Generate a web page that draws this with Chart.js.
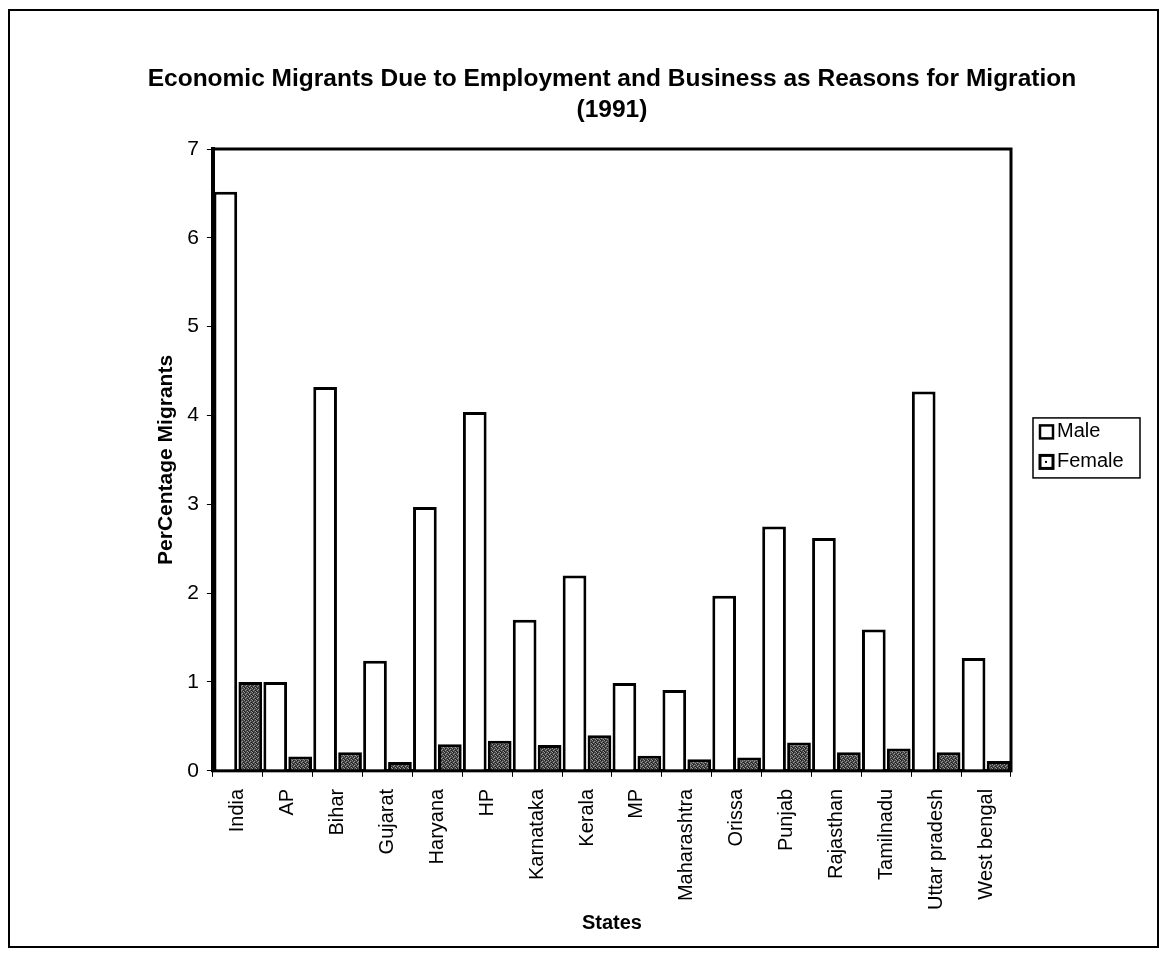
<!DOCTYPE html>
<html>
<head>
<meta charset="utf-8">
<title>Economic Migrants 1991</title>
<script src="https://cdn.jsdelivr.net/npm/chart.js@4.4.1/dist/chart.umd.min.js"></script>
<style>
  html, body { margin: 0; padding: 0; background: #fff; }
  canvas { display: block; }
</style>
</head>
<body>
<canvas id="chart" width="1167" height="955"></canvas>
<script>
  const states = ['India', 'AP', 'Bihar', 'Gujarat', 'Haryana', 'HP', 'Karnataka', 'Kerala',
    'MP', 'Maharashtra', 'Orissa', 'Punjab', 'Rajasthan', 'Tamilnadu', 'Uttar pradesh', 'West bengal'];
  const male   = [6.52, 1.00, 4.32, 1.24, 2.97, 4.04, 1.70, 2.20, 0.99, 0.91, 1.97, 2.75, 2.62, 1.59, 4.27, 1.27];
  const female = [1.00, 0.16, 0.21, 0.10, 0.30, 0.34, 0.29, 0.40, 0.17, 0.13, 0.15, 0.32, 0.21, 0.25, 0.21, 0.11];
  const yTicks = [0, 1, 2, 3, 4, 5, 6, 7];
  const titleLines = ['Economic Migrants Due to Employment and Business as Reasons for Migration', '(1991)'];

  const font = 'Arial, "Liberation Sans", sans-serif';

  // stippled grey fill for the female bars (fixed pixel pattern)
  function stipple() {
    const c = document.createElement('canvas');
    c.width = 4; c.height = 4;
    const g = c.getContext('2d');
    g.fillStyle = '#444';
    g.fillRect(0, 0, 4, 4);
    g.fillStyle = '#999';
    [[0, 0], [2, 1], [1, 2], [3, 3]].forEach(p => g.fillRect(p[0], p[1], 1, 1));
    g.fillStyle = '#1e1e1e';
    [[1, 0], [3, 2], [0, 3]].forEach(p => g.fillRect(p[0], p[1], 1, 1));
    return g.createPattern(c, 'repeat');
  }

  // title over the plot, outer frame, plot border and the boxed legend
  const frames = {
    id: 'frames',
    afterDraw(chart) {
      const ctx = chart.ctx;
      const a = chart.chartArea;
      const cx = (a.left + a.right) / 2;
      ctx.save();

      ctx.fillStyle = '#000';
      ctx.textAlign = 'center';
      ctx.textBaseline = 'middle';
      ctx.font = 'bold 24.5px ' + font;
      titleLines.forEach((t, i) => ctx.fillText(t, cx, a.top - 70 + i * 31));

      ctx.strokeStyle = '#000';
      ctx.lineWidth = 2;
      ctx.strokeRect(9, 10, 1149, 937);
      ctx.lineWidth = 3;
      ctx.strokeRect(a.left, a.top, a.right - a.left, a.bottom - a.top);

      // legend
      const lx = a.right + 22, ly = (a.top + a.bottom) / 2 - 42;
      ctx.lineWidth = 1.5;
      ctx.strokeRect(lx, ly, 107, 60);
      ctx.font = '20px ' + font;
      ctx.textAlign = 'left';
      chart.data.datasets.forEach((ds, i) => {
        const cy = ly + 14 + i * 30;
        ctx.fillStyle = '#fff';
        ctx.fillRect(lx + 7, cy - 6.5, 13, 13);
        ctx.lineWidth = i === 0 ? 2.5 : 3;
        ctx.strokeRect(lx + 7, cy - 6.5, 13, 13);
        if (i === 1) {
          ctx.fillStyle = '#000';
          ctx.fillRect(lx + 12, cy - 1, 2, 2);
        }
        ctx.fillStyle = '#000';
        ctx.fillText(ds.label, lx + 24, cy);
      });
      ctx.restore();
    }
  };

  const ctx = document.getElementById('chart').getContext('2d');
  new Chart(ctx, {
    type: 'bar',
    data: {
      labels: states,
      datasets: [
        { label: 'Male', data: male, backgroundColor: '#fff', borderColor: '#000', borderWidth: 3 },
        { label: 'Female', data: female, backgroundColor: stipple(), borderColor: '#000', borderWidth: 3 }
      ]
    },
    options: {
      responsive: false,
      animation: false,
      layout: { padding: { top: 149, left: 154, right: 156, bottom: 22 } },
      datasets: { bar: { categoryPercentage: 1.0, barPercentage: 0.95 } },
      plugins: {
        title: { display: false },
        legend: { display: false },
        tooltip: { enabled: false }
      },
      scales: {
        x: {
          grid: { drawOnChartArea: false, color: '#000', tickLength: 6 },
          border: { color: '#000', width: 3 },
          ticks: { color: '#000', font: { family: font, size: 20 }, minRotation: 90, maxRotation: 90, padding: 12 },
          title: { display: true, text: 'States', color: '#000', font: { family: font, size: 20, weight: 'bold', lineHeight: 1.0 }, padding: { top: -9, bottom: 0 } }
        },
        y: {
          min: 0,
          max: 7,
          afterBuildTicks(axis) { axis.ticks = yTicks.map(v => ({ value: v })); },
          grid: { drawOnChartArea: false, color: '#000', tickLength: 6 },
          border: { color: '#000', width: 4 },
          ticks: { color: '#000', font: { family: font, size: 21 }, padding: 8 },
          title: { display: true, text: 'PerCentage Migrants', color: '#000', font: { family: font, size: 21, weight: 'bold' }, padding: { top: 0, bottom: 0 } }
        }
      }
    },
    plugins: [frames]
  });
</script>
</body>
</html>
